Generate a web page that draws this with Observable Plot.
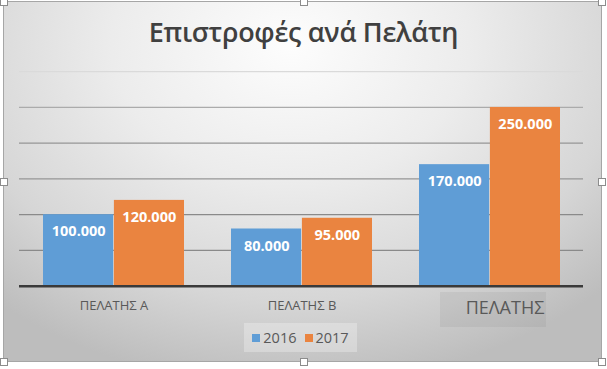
<!DOCTYPE html>
<html><head><meta charset="utf-8">
<script src="https://cdn.jsdelivr.net/npm/d3@7"></script>
<script src="https://cdn.jsdelivr.net/npm/@observablehq/plot@0.6"></script>
<style>
body{margin:0;background:#fff;width:607px;height:369px;overflow:hidden;font-family:"Open Sans",sans-serif}
#wrap{position:relative;width:607px;height:369px}
#area{position:absolute;left:3px;top:1px;width:597px;height:359px;border:1px solid #a6a6a6;
 background:radial-gradient(ellipse 75% 95% at 48% 12%, #fdfdfd 0%, #ececec 40%, #d6d6d6 75%, #bdbdbd 100%)}
#title{position:absolute;left:0;width:607px;top:13px;text-align:center;font-weight:600;font-size:27px;color:#404040;letter-spacing:-0.3px}
#chart{position:absolute;left:0;top:0}
#lblbox{position:absolute;left:440px;top:292px;width:106px;height:35px;background:rgba(110,110,110,0.10)}
#legend{position:absolute;left:244px;top:323px;width:113px;height:29px;background:rgba(255,255,255,0.28);display:flex;align-items:center;justify-content:center;gap:8px;font-size:14.5px;color:#595959}
#legend span.sw{display:inline-block;width:8px;height:8px;margin-right:3px;vertical-align:1px}
.h{position:absolute;width:6px;height:6px;background:#fff;border:1px solid #8c8c8c}
</style></head>
<body><div id="wrap">
<div id="area"></div>
<div id="lblbox"></div>
<div id="title">Επιστροφές ανά Πελάτη</div>
<div id="chart"></div>
<div id="legend"></div>
</div>
<script>
const customers = ["ΠΕΛΑΤΗΣ Α", "ΠΕΛΑΤΗΣ Β", "ΠΕΛΑΤΗΣ"];
const years = ["2016", "2017"];
const values2016 = [100000, 80000, 170000];
const values2017 = [120000, 95000, 250000];
const gridTicks = [50000, 100000, 150000, 200000, 250000, 300000];
const colors = ["#5f9dd6", "#ea8440"];
const chartTitle = "Επιστροφές ανά Πελάτη";

const rows2016 = customers.map((c, i) => ({customer: c, year: years[0], value: values2016[i]}));
const rows2017 = customers.map((c, i) => ({customer: c, year: years[1], value: values2017[i]}));
const fmt = d3.formatLocale({decimal: ",", thousands: ".", grouping: [3], currency: ["", ""]}).format(",d");

const half = 70.9;
const labelStyle = {fill: "#ffffff", fontWeight: "bold", fontSize: 14.5, fontFamily: "Open Sans"};

const plot = Plot.plot({
  width: 607, height: 369,
  marginTop: 71.2, marginBottom: 83.3, marginLeft: 19, marginRight: 24,
  style: {background: "transparent", fontFamily: "Open Sans", overflow: "visible"},
  x: {type: "band", domain: customers, paddingInner: 0.252, paddingOuter: 0.126, axis: null},
  y: {domain: [0, 300000], axis: null},
  marks: [
    Plot.ruleY(gridTicks, {stroke: d => d >= 300000 ? "#dadada" : d >= 250000 ? "#ababab" : d >= 150000 ? "#969696" : "#8a8a8a", strokeWidth: 1.2}),
    Plot.barY(rows2016, {x: "customer", y: "value", fill: colors[0], insetRight: half}),
    Plot.barY(rows2017, {x: "customer", y: "value", fill: colors[1], insetLeft: half}),
    Plot.text(rows2016, {x: "customer", y: "value", text: d => fmt(d.value), dx: -35.3, dy: 17, ...labelStyle}),
    Plot.text(rows2017, {x: "customer", y: "value", text: d => fmt(d.value), dx: 35.3, dy: 17, ...labelStyle}),
    Plot.ruleY([0], {stroke: "#3a3a3a", strokeWidth: 2.5}),
    Plot.text(customers.slice(0, 2), {x: d => d, frameAnchor: "bottom", lineAnchor: "middle", dy: 20, fontSize: 13, fill: "#595959"}),
    Plot.text(customers.slice(2), {x: d => d, frameAnchor: "bottom", lineAnchor: "middle", dy: 22, dx: 15, fontSize: 18, fill: "#595959"})
  ]
});
document.getElementById("chart").appendChild(plot);
document.getElementById("title").textContent = chartTitle;

const lg = document.getElementById("legend");
years.forEach((y, i) => {
  const item = document.createElement("span");
  item.innerHTML = `<span class="sw" style="background:${colors[i]}"></span>${y}`;
  lg.appendChild(item);
});

const wrap = document.getElementById("wrap");
[[3,1],[303,1],[601,1],[3,181],[601,181],[3,361],[303,361],[601,361]].forEach(([x, y]) => {
  const h = document.createElement("div");
  h.className = "h";
  h.style.left = (x - 3) + "px";
  h.style.top = (y - 3) + "px";
  wrap.appendChild(h);
});
</script>
</body></html>
